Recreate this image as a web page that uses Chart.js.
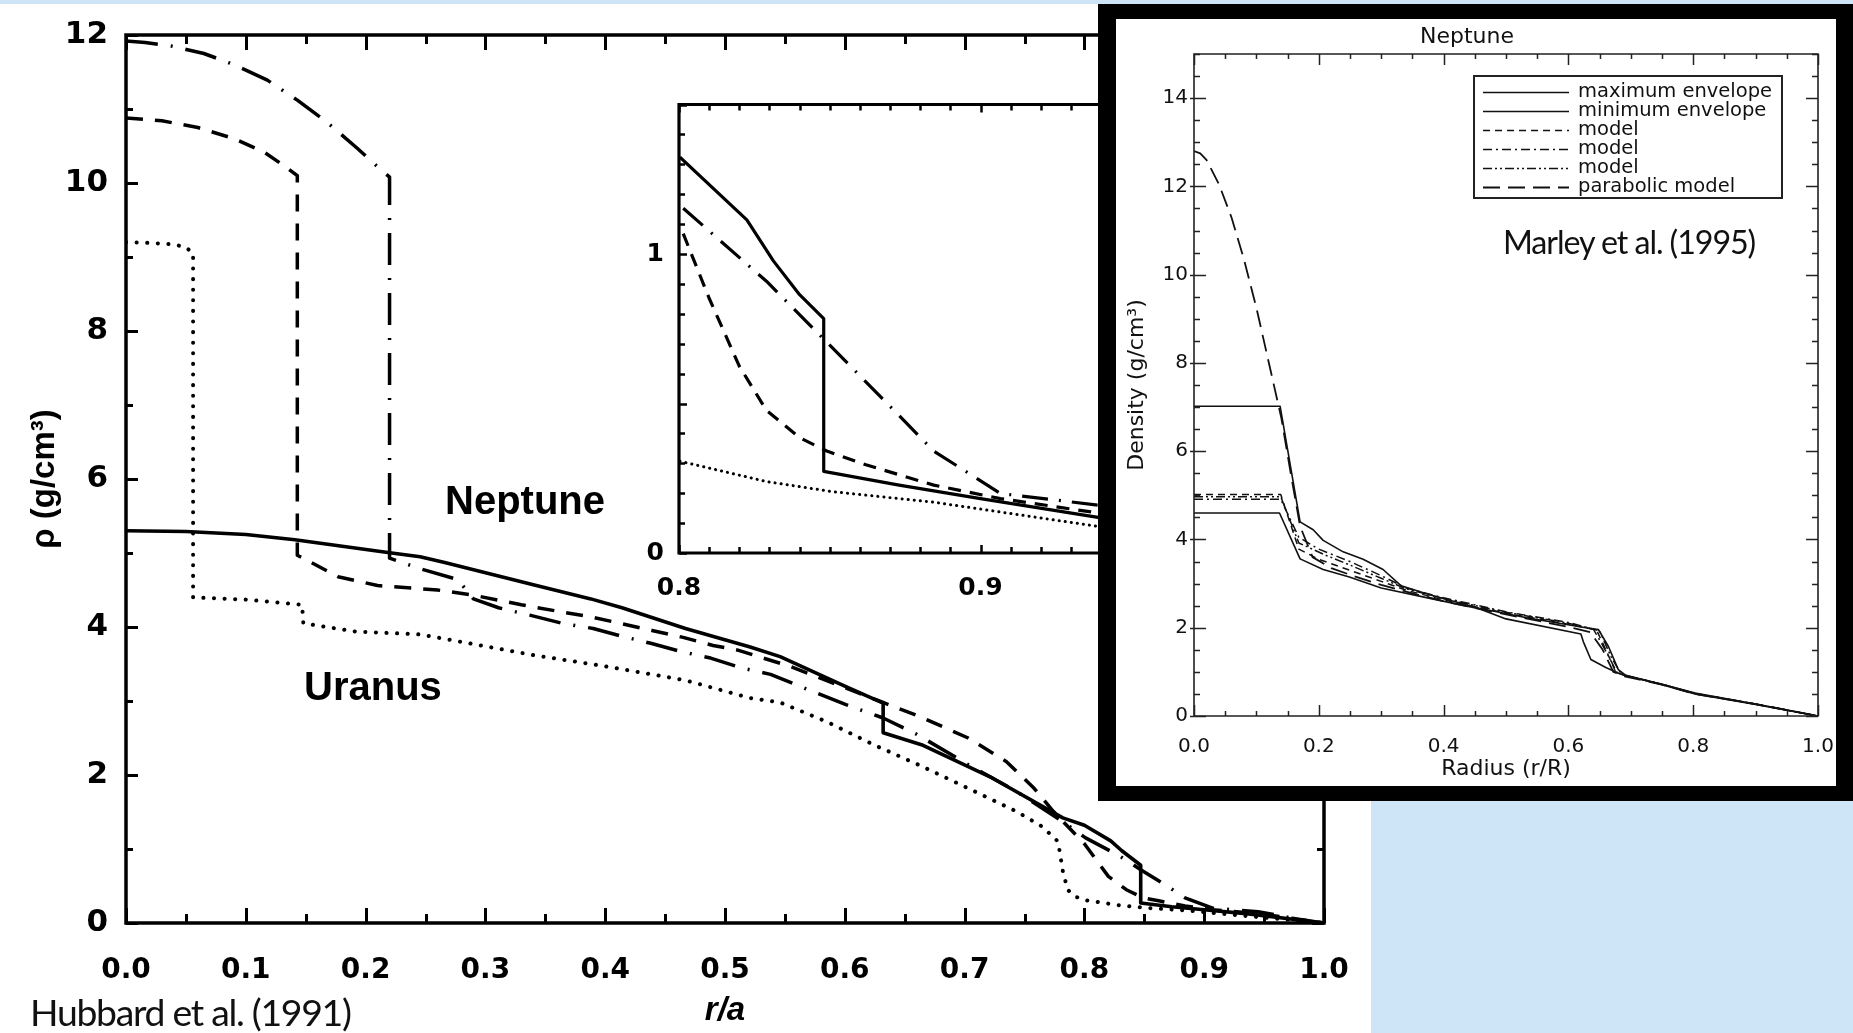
<!DOCTYPE html>
<html>
<head>
<meta charset="utf-8">
<script src="https://cdn.jsdelivr.net/npm/chart.js@4.4.1/dist/chart.umd.min.js"></script>
<style>
  html, body { margin:0; padding:0; background:#ffffff; width:1853px; height:1033px; overflow:hidden; }
  body { position:relative; }
  .abs { position:absolute; }
  #topBlue { left:0; top:0; width:1853px; height:4px; background:#cde5f7; }
  #brBlue { left:1371px; top:801px; width:482px; height:232px; background:#cde5f7; }
  #mainCanvas { left:0; top:0; z-index:1; }
  #insetCanvas { left:560px; top:60px; z-index:2; }
  .lbl { font-family:'Liberation Sans', Arial, sans-serif; font-weight:bold; font-size:40px; line-height:40px; color:#000; white-space:nowrap; z-index:2; }
  #box { left:1098px; top:4px; width:755px; height:797px; background:#000; z-index:3; }
  #marleyCanvas { left:1116px; top:19px; z-index:4; background:#fff; }
  #legend { left:1473px; top:75px; width:306px; height:120px; border:2px solid #222; z-index:5; background:transparent; }
  .lrow { position:absolute; left:0; height:17px; width:306px; }
  .lrow svg { position:absolute; left:8px; top:0; }
  .lrow span { position:absolute; left:103px; top:-5px; font-family:'DejaVu Sans', sans-serif; font-size:19.5px; line-height:24px; color:#111; white-space:nowrap; }
  .cite { font-family:Lato, 'Open Sans', sans-serif; color:#111; white-space:nowrap; line-height:1; z-index:6; }
</style>
</head>
<body>
<div id="topBlue" class="abs"></div>
<div id="brBlue" class="abs"></div>
<canvas id="mainCanvas" class="abs" width="1853" height="1033"></canvas>
<div id="lblNeptune" class="abs lbl" style="left:445px; top:480px;">Neptune</div>
<div id="lblUranus" class="abs lbl" style="left:304px; top:666px;">Uranus</div>
<canvas id="insetCanvas" class="abs" width="760" height="560"></canvas>
<div id="box" class="abs"></div>
<canvas id="marleyCanvas" class="abs" width="720" height="767"></canvas>
<div id="legend" class="abs"></div>
<div id="marleyCite" class="abs cite">Marley et al. (1995)</div>
<div id="hubbardCite" class="abs cite">Hubbard et al. (1991)</div>

<script>
// ---------------- Hubbard et al. (1991), main panel: density vs r/a ----------------
const mainSolidR   = [0, 0.05, 0.1, 0.141, 0.217, 0.2455, 0.266, 0.34, 0.388, 0.414, 0.467, 0.521, 0.546, 0.6, 0.632, 0.632, 0.664, 0.723, 0.782, 0.8, 0.822, 0.831, 0.847, 0.847, 0.873, 0.9, 0.939, 0.979, 1.0];
const mainSolidV   = [5.3, 5.29, 5.25, 5.18, 5.01, 4.95, 4.87, 4.57, 4.38, 4.26, 3.98, 3.73, 3.6, 3.2, 2.97, 2.57, 2.41, 1.96, 1.42, 1.32, 1.11, 0.98, 0.78, 0.27, 0.22, 0.18, 0.12, 0.04, 0];

const mainDashedR  = [0, 0.03, 0.06, 0.09, 0.115, 0.133, 0.143, 0.143, 0.177, 0.21, 0.26, 0.29, 0.33, 0.365, 0.39, 0.415, 0.44, 0.465, 0.49, 0.51, 0.554, 0.6, 0.632, 0.664, 0.703, 0.735, 0.758, 0.774, 0.8, 0.82, 0.835, 0.849, 0.862, 0.884, 0.907, 0.945, 0.975, 1.0];
const mainDashedV  = [10.88, 10.84, 10.75, 10.6, 10.42, 10.22, 10.1, 4.97, 4.68, 4.56, 4.5, 4.43, 4.3, 4.2, 4.13, 4.04, 3.95, 3.86, 3.75, 3.69, 3.47, 3.18, 2.98, 2.78, 2.5, 2.18, 1.82, 1.51, 1.07, 0.63, 0.45, 0.34, 0.3, 0.23, 0.18, 0.125, 0.06, 0];

const mainDashDotR = [0, 0.016, 0.038, 0.065, 0.09, 0.118, 0.143, 0.167, 0.193, 0.21, 0.22, 0.22, 0.247, 0.277, 0.29, 0.311, 0.337, 0.364, 0.39, 0.415, 0.438, 0.463, 0.488, 0.513, 0.538, 0.573, 0.601, 0.632, 0.66, 0.703, 0.743, 0.782, 0.801, 0.829, 0.849, 0.868, 0.884, 0.907, 0.945, 0.979, 1.0];
const mainDashDotV = [11.92, 11.9, 11.85, 11.75, 11.6, 11.39, 11.12, 10.83, 10.47, 10.22, 10.08, 4.93, 4.78, 4.64, 4.38, 4.26, 4.16, 4.05, 3.98, 3.87, 3.78, 3.67, 3.58, 3.45, 3.36, 3.13, 2.95, 2.77, 2.55, 2.14, 1.78, 1.37, 1.15, 0.91, 0.70, 0.51, 0.34, 0.2, 0.153, 0.05, 0];

const mainDottedR  = [0, 0.02, 0.04, 0.05, 0.056, 0.056, 0.1, 0.147, 0.148, 0.191, 0.2455, 0.266, 0.34, 0.388, 0.414, 0.467, 0.521, 0.546, 0.585, 0.624, 0.664, 0.703, 0.743, 0.765, 0.778, 0.782, 0.786, 0.792, 0.8, 0.829, 0.851, 0.8845, 0.945, 0.975, 1.0];
const mainDottedV  = [9.2, 9.19, 9.17, 9.13, 9.05, 4.4, 4.37, 4.3, 4.05, 3.94, 3.9, 3.84, 3.62, 3.5, 3.43, 3.28, 3.04, 2.98, 2.72, 2.41, 2.12, 1.82, 1.51, 1.3, 1.1, 0.7, 0.45, 0.36, 0.31, 0.24, 0.205, 0.17, 0.08, 0.04, 0];

// ---------------- Hubbard inset: outer region 0.8 - 1.0 ----------------
const insetSolidR   = [0.8003, 0.8225, 0.8313, 0.840, 0.848, 0.848, 0.873, 0.9, 0.939, 0.97, 1.0];
const insetSolidV   = [1.324, 1.114, 0.977, 0.864, 0.784, 0.273, 0.227, 0.182, 0.119, 0.06, 0];
const insetDashDotR = [0.8014, 0.829, 0.849, 0.868, 0.8845, 0.9066, 0.945, 0.975, 1.0];
const insetDashDotV = [1.153, 0.909, 0.705, 0.511, 0.341, 0.199, 0.153, 0.07, 0];
const insetDashedR  = [0.8014, 0.810, 0.820, 0.829, 0.840, 0.849, 0.862, 0.8845, 0.9066, 0.945, 0.975, 1.0];
const insetDashedV  = [1.068, 0.852, 0.625, 0.477, 0.386, 0.341, 0.295, 0.227, 0.182, 0.125, 0.06, 0];
const insetDottedR  = [0.8003, 0.829, 0.851, 0.8845, 0.945, 0.975, 1.0];
const insetDottedV  = [0.307, 0.239, 0.205, 0.170, 0.080, 0.04, 0];

// ---------------- Marley et al. (1995): Neptune density vs radius ----------------
const marleyMaxR  = [0, 0.138, 0.170, 0.191, 0.207, 0.239, 0.271, 0.303, 0.332, 0.379, 0.457, 0.535, 0.628, 0.648, 0.664, 0.680, 0.692, 0.75, 0.803, 0.9, 1.0];
const marleyMaxV  = [7.02, 7.02, 4.40, 4.22, 3.98, 3.72, 3.55, 3.32, 2.95, 2.74, 2.44, 2.22, 2.0, 1.96, 1.58, 1.05, 0.92, 0.72, 0.52, 0.27, 0];
const marleyMinR  = [0, 0.137, 0.170, 0.207, 0.249, 0.30, 0.38, 0.457, 0.50, 0.62, 0.624, 0.636, 0.66, 0.683, 0.75, 0.803, 0.9, 1.0];
const marleyMinV  = [4.6, 4.6, 3.56, 3.32, 3.15, 2.9, 2.66, 2.43, 2.2, 1.86, 1.68, 1.28, 1.1, 0.95, 0.71, 0.5, 0.26, 0];
const marleyM1R   = [0, 0.139, 0.168, 0.2, 0.25, 0.3, 0.34, 0.4, 0.5, 0.6, 0.645, 0.66, 0.675, 0.69, 0.75, 0.803, 0.9, 1.0];
const marleyM1V   = [5.02, 5.02, 3.78, 3.55, 3.3, 3.05, 2.85, 2.63, 2.33, 2.08, 1.95, 1.5, 1.02, 0.92, 0.72, 0.51, 0.27, 0];
const marleyM2R   = [0, 0.139, 0.168, 0.2, 0.25, 0.3, 0.34, 0.4, 0.5, 0.6, 0.64, 0.662, 0.678, 0.69, 0.75, 0.803, 0.9, 1.0];
const marleyM2V   = [4.91, 4.91, 4.05, 3.78, 3.5, 3.18, 2.9, 2.68, 2.36, 2.12, 1.97, 1.42, 0.98, 0.92, 0.72, 0.51, 0.27, 0];
const marleyM3R   = [0, 0.139, 0.168, 0.21, 0.25, 0.3, 0.34, 0.4, 0.5, 0.6, 0.65, 0.668, 0.684, 0.695, 0.75, 0.803, 0.9, 1.0];
const marleyM3V   = [4.97, 4.97, 3.92, 3.65, 3.42, 3.12, 2.88, 2.66, 2.35, 2.1, 1.93, 1.35, 0.96, 0.9, 0.72, 0.51, 0.27, 0];
const marleyParR  = [0, 0.01, 0.02, 0.04, 0.06, 0.08, 0.1, 0.12, 0.14, 0.155, 0.17, 0.19, 0.22, 0.26, 0.3, 0.35, 0.4, 0.5, 0.6, 0.635, 0.655, 0.672, 0.69, 0.75, 0.803, 0.9, 1.0];
const marleyParV  = [12.8, 12.75, 12.6, 12.05, 11.3, 10.35, 9.25, 8.0, 6.75, 5.5, 4.3, 3.6, 3.35, 3.15, 2.97, 2.78, 2.6, 2.3, 2.02, 1.9, 1.5, 1.0, 0.9, 0.71, 0.5, 0.27, 0];

const marleyLegendLabels = ['maximum envelope', 'minimum envelope', 'model', 'model', 'model', 'parabolic model'];

// ---------------- axis text ----------------
const mainXTitle = 'r/a';
const mainYTitle = 'ρ (g/cm³)';
const marleyTitle = 'Neptune';
const marleyXTitle = 'Radius (r/R)';
const marleyYTitle = 'Density (g/cm³)';

// ---------------- helpers ----------------
const pts = (r, v) => r.map((x, i) => ({ x: x, y: v[i] }));

const framePlugin = {
  id: 'frame',
  beforeDatasetsDraw(chart, _args, o) {
    if (!o || !o.fill) return;
    const { ctx, chartArea: a } = chart;
    ctx.save();
    ctx.fillStyle = o.fill;
    ctx.fillRect(a.left, a.top, a.right - a.left, a.bottom - a.top);
    ctx.restore();
  },
  afterDatasetsDraw(chart, _args, o) {
    if (!o || !o.color) return;
    const { ctx, chartArea: a, scales } = chart;
    const x = scales.x, y = scales.y;
    ctx.save();
    ctx.strokeStyle = o.color;
    ctx.lineWidth = o.width;
    ctx.lineJoin = 'miter';
    ctx.beginPath();
    ctx.moveTo(a.left, a.top); ctx.lineTo(a.right, a.top); ctx.lineTo(a.right, a.bottom); ctx.lineTo(a.left, a.bottom);
    ctx.closePath();
    ctx.stroke();
    ctx.lineWidth = o.tickWidth;
    ctx.beginPath();
    const marks = (min, max, step) => {
      const out = []; const n = Math.round((max - min) / step);
      for (let i = 0; i <= n; i++) out.push(min + i * step);
      return out;
    };
    [[o.xMinor, o.xMinorLen], [o.xMajor, o.xMajorLen]].forEach(([step, len]) => {
      if (!step) return;
      marks(x.min, x.max, step).forEach(v => {
        const px = Math.round(x.getPixelForValue(v)) + 0.5;
        ctx.moveTo(px, a.bottom); ctx.lineTo(px, a.bottom - len);
        ctx.moveTo(px, a.top); ctx.lineTo(px, a.top + len);
      });
    });
    [[o.yMinor, o.yMinorLen], [o.yMajor, o.yMajorLen]].forEach(([step, len]) => {
      if (!step) return;
      marks(y.min, y.max, step).forEach(v => {
        const py = Math.round(y.getPixelForValue(v)) + 0.5;
        ctx.moveTo(a.left, py); ctx.lineTo(a.left + len, py);
        ctx.moveTo(a.right, py); ctx.lineTo(a.right - len, py);
        if (o.yOutLen && step === o.yMajor) { ctx.moveTo(a.left, py); ctx.lineTo(a.left - o.yOutLen, py); }
      });
    });
    ctx.stroke();
    ctx.restore();
  }
};

Chart.defaults.font.family = "'DejaVu Sans', sans-serif";
Chart.defaults.color = '#000';

const lineDs = (r, v, extra) => Object.assign({
  data: pts(r, v), showLine: true, pointRadius: 0, pointHoverRadius: 0,
  borderColor: '#000', borderWidth: 3.5, fill: false, tension: 0,
  borderCapStyle: 'butt', borderJoinStyle: 'round'
}, extra);

const noGrid = { display: false, drawTicks: false };
// fixed-size axis boxes; label overflow padding is ignored so the plot areas stay where set
const fixX = h => function (s) { s.height = h; s.paddingLeft = 0; s.paddingRight = 0; s.paddingTop = 0; s.paddingBottom = 0; };
const fixY = w => function (s) { s.width = w; s.paddingLeft = 0; s.paddingRight = 0; s.paddingTop = 0; s.paddingBottom = 0; };

// ---------------- main chart ----------------
new Chart(document.getElementById('mainCanvas'), {
  type: 'scatter',
  data: { datasets: [
    lineDs(mainSolidR, mainSolidV, { borderWidth: 3.6 }),
    lineDs(mainDashedR, mainDashedV, { borderDash: [17, 12] }),
    lineDs(mainDashDotR, mainDashDotV, { borderDash: [32, 13, 2, 13] }),
    lineDs(mainDottedR, mainDottedV, { borderDash: [0.1, 10.5], borderCapStyle: 'round', borderWidth: 4 })
  ]},
  options: {
    responsive: false, animation: false, devicePixelRatio: 1, events: [],
    layout: { padding: { left: 0, top: 35, right: 529, bottom: 0 } },
    plugins: {
      legend: { display: false }, tooltip: { enabled: false },
      frame: { color: '#000', width: 3.5, tickWidth: 3,
               xMinor: 0.05, xMinorLen: 9, xMajor: 0.1, xMajorLen: 15,
               yMinor: 1, yMinorLen: 7, yMajor: 2, yMajorLen: 12 }
    },
    scales: {
      x: { type: 'linear', min: 0, max: 1, grid: noGrid, border: { display: false },
           ticks: { stepSize: 0.1, padding: 31, autoSkip: false, maxRotation: 0,
                    font: { family: "'DejaVu Sans', sans-serif", weight: 'bold', size: 28 }, color: '#000',
                    callback: v => Number(v).toFixed(1) },
           title: { display: true, text: mainXTitle, color: '#000',
                    font: { family: "'Liberation Sans', Arial, sans-serif", weight: 'bold', style: 'italic', size: 33 },
                    padding: { top: 0, bottom: 2 } },
           afterFit: fixX(110) },
      y: { type: 'linear', min: 0, max: 12, grid: noGrid, border: { display: false },
           ticks: { stepSize: 2, padding: 18, font: { family: "'DejaVu Sans', sans-serif", weight: 'bold', size: 31 }, color: '#000',
                    callback: v => String(v) },
           title: { display: true, text: mainYTitle, color: '#000',
                    font: { family: "'Liberation Sans', Arial, sans-serif", weight: 'bold', size: 33 },
                    padding: { top: 25, bottom: 0 } },
           afterFit: fixY(126) }
    }
  },
  plugins: [framePlugin]
});

// ---------------- inset ----------------
new Chart(document.getElementById('insetCanvas'), {
  type: 'scatter',
  data: { datasets: [
    lineDs(insetSolidR, insetSolidV, { borderWidth: 3.2 }),
    lineDs(insetDashDotR, insetDashDotV, { borderWidth: 3.2, borderDash: [26, 11, 2, 11] }),
    lineDs(insetDashedR, insetDashedV, { borderWidth: 3.2, borderDash: [13, 9] }),
    lineDs(insetDottedR, insetDottedV, { borderWidth: 3, borderDash: [0.1, 6], borderCapStyle: 'round' })
  ]},
  options: {
    responsive: false, animation: false, devicePixelRatio: 1, events: [],
    layout: { padding: { left: 0, top: 44.5, right: 38, bottom: 0 } },
    plugins: {
      legend: { display: false }, tooltip: { enabled: false },
      frame: { fill: '#fff', color: '#000', width: 3.2, tickWidth: 2.5,
               xMinor: 0.01, xMinorLen: 6, xMajor: 0.1, xMajorLen: 8,
               yMinor: 0.1, yMinorLen: 6, yMajor: 0.5, yMajorLen: 8 }
    },
    scales: {
      x: { type: 'linear', min: 0.8, max: 1.0, grid: noGrid, border: { display: false },
           ticks: { stepSize: 0.1, padding: 20, autoSkip: false, maxRotation: 0,
                    font: { family: "'DejaVu Sans', sans-serif", weight: 'bold', size: 25 }, color: '#000',
                    callback: v => Number(v).toFixed(1) },
           afterFit: fixX(67) },
      y: { type: 'linear', min: 0, max: 1.5, grid: noGrid, border: { display: false },
           ticks: { stepSize: 1, includeBounds: false, padding: 15,
                    font: { family: "'DejaVu Sans', sans-serif", weight: 'bold', size: 25 }, color: '#000',
                    callback: v => (Number.isInteger(v) ? String(v) : '') },
           afterFit: fixY(119) }
    }
  },
  plugins: [framePlugin]
});

// ---------------- Marley et al. chart ----------------
const mStyle = {
  max:  { borderWidth: 1.6 },
  min:  { borderWidth: 1.6 },
  m1:   { borderWidth: 1.5, borderDash: [7, 5] },
  m2:   { borderWidth: 1.5, borderDash: [9, 4, 2, 4] },
  m3:   { borderWidth: 1.5, borderDash: [9, 3, 2, 3, 2, 3] },
  par:  { borderWidth: 1.8, borderDash: [17, 8] }
};
const marleyDatasets = [
  lineDs(marleyMaxR, marleyMaxV, Object.assign({ label: marleyLegendLabels[0], borderColor: '#111' }, mStyle.max)),
  lineDs(marleyMinR, marleyMinV, Object.assign({ label: marleyLegendLabels[1], borderColor: '#111' }, mStyle.min)),
  lineDs(marleyM1R, marleyM1V, Object.assign({ label: marleyLegendLabels[2], borderColor: '#111' }, mStyle.m1)),
  lineDs(marleyM2R, marleyM2V, Object.assign({ label: marleyLegendLabels[3], borderColor: '#111' }, mStyle.m2)),
  lineDs(marleyM3R, marleyM3V, Object.assign({ label: marleyLegendLabels[4], borderColor: '#111' }, mStyle.m3)),
  lineDs(marleyParR, marleyParV, Object.assign({ label: marleyLegendLabels[5], borderColor: '#111' }, mStyle.par))
];
new Chart(document.getElementById('marleyCanvas'), {
  type: 'scatter',
  data: { datasets: marleyDatasets },
  options: {
    responsive: false, animation: false, devicePixelRatio: 1, events: [],
    layout: { padding: { left: 0, top: 0, right: 18, bottom: 0 } },
    plugins: {
      legend: { display: false }, tooltip: { enabled: false },
      title: { display: true, text: marleyTitle, color: '#111',
               font: { family: "'DejaVu Sans', sans-serif", size: 22, weight: 'normal' },
               padding: { top: 5.4, bottom: 3.2 } },
      frame: { color: '#222', width: 1.6, tickWidth: 1.5,
               xMinor: 0.05, xMinorLen: 5, xMajor: 0.2, xMajorLen: 11,
               yMinor: 0.5, yMinorLen: 6, yMajor: 2, yMajorLen: 12, yOutLen: 4 }
    },
    scales: {
      x: { type: 'linear', min: 0, max: 1, grid: noGrid, border: { display: false },
           ticks: { stepSize: 0.2, padding: 19, autoSkip: false, maxRotation: 0,
                    font: { family: "'DejaVu Sans', sans-serif", size: 20 }, color: '#111',
                    callback: v => Number(v).toFixed(1) },
           title: { display: true, text: marleyXTitle, color: '#111',
                    font: { family: "'DejaVu Sans', sans-serif", size: 22 }, padding: { top: 0, bottom: 4 } },
           afterFit: fixX(70) },
      y: { type: 'linear', min: 0, max: 15, grid: noGrid, border: { display: false },
           ticks: { stepSize: 2, includeBounds: false, padding: 6,
                    font: { family: "'DejaVu Sans', sans-serif", size: 20 }, color: '#111',
                    callback: v => (v % 2 === 0 ? String(v) : '') },
           title: { display: true, text: marleyYTitle, color: '#111',
                    font: { family: "'DejaVu Sans', sans-serif", size: 22 }, padding: { top: 8, bottom: 0 } },
           afterFit: fixY(78) }
    }
  },
  plugins: [framePlugin]
});

// ---------------- Marley legend (HTML) ----------------
(function () {
  const legend = document.getElementById('legend');
  const rowTops = [7, 26, 45, 64, 83, 102];
  marleyDatasets.forEach((ds, i) => {
    const row = document.createElement('div');
    row.className = 'lrow';
    row.style.top = rowTops[i] + 'px';
    const dash = ds.borderDash ? ds.borderDash.join(',') : 'none';
    row.innerHTML = '<svg width="86" height="17"><line x1="0" y1="8.5" x2="86" y2="8.5" stroke="#111" stroke-width="' +
      ds.borderWidth + '" stroke-dasharray="' + dash + '"/></svg><span>' + ds.label + '</span>';
    legend.appendChild(row);
  });
})();

// ---------------- citation texts, fitted to their widths ----------------
(function () {
  const c = document.createElement('canvas').getContext('2d');
  function fit(id, left, baseline, width, grow) {
    const el = document.getElementById(id);
    const txt = el.textContent;
    c.font = "100px Lato, 'Open Sans', sans-serif";
    const w = c.measureText(txt).width;
    const size = 100 * width / w * grow;
    const ls = -(width * (grow - 1)) / (txt.length - 1);
    el.style.fontSize = size.toFixed(2) + 'px';
    el.style.letterSpacing = ls.toFixed(2) + 'px';
    el.style.left = left + 'px';
    el.style.top = (baseline - 0.887 * size).toFixed(1) + 'px';
  }
  fit('hubbardCite', 30, 1026, 322, 1.08);
  fit('marleyCite', 1503, 255, 254, 1.08);
})();
</script>
</body>
</html>
